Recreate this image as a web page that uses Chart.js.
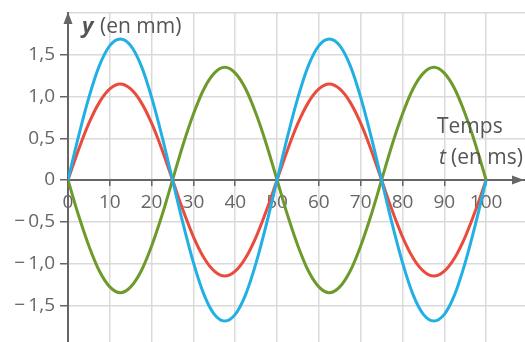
<!DOCTYPE html>
<html>
<head>
<meta charset="utf-8">
<script src="https://cdn.jsdelivr.net/npm/chart.js@4.4.1/dist/chart.umd.min.js"></script>
<style>
  html, body { margin: 0; padding: 0; background: #fff; }
  #wrap { position: relative; width: 525px; height: 342px; }
</style>
</head>
<body>
<div id="wrap"><canvas id="chart"></canvas></div>
<script>
// time in ms, sampled every 2.5 ms
const times = [0, 2.5, 5, 7.5, 10, 12.5, 15, 17.5, 20, 22.5, 25, 27.5, 30, 32.5, 35, 37.5, 40, 42.5, 45, 47.5,
  50, 52.5, 55, 57.5, 60, 62.5, 65, 67.5, 70, 72.5, 75, 77.5, 80, 82.5, 85, 87.5, 90, 92.5, 95, 97.5, 100];

// y in mm
const blueY = [0, 0.52, 0.99, 1.37, 1.61, 1.69, 1.61, 1.37, 0.99, 0.52, 0, -0.52, -0.99, -1.37, -1.61, -1.69, -1.61, -1.37, -0.99, -0.52,
  0, 0.52, 0.99, 1.37, 1.61, 1.69, 1.61, 1.37, 0.99, 0.52, 0, -0.52, -0.99, -1.37, -1.61, -1.69, -1.61, -1.37, -0.99, -0.52, 0];
const redY = [0, 0.36, 0.68, 0.93, 1.09, 1.15, 1.09, 0.93, 0.68, 0.36, 0, -0.36, -0.68, -0.93, -1.09, -1.15, -1.09, -0.93, -0.68, -0.36,
  0, 0.36, 0.68, 0.93, 1.09, 1.15, 1.09, 0.93, 0.68, 0.36, 0, -0.36, -0.68, -0.93, -1.09, -1.15, -1.09, -0.93, -0.68, -0.36, 0];
const greenY = [0, -0.42, -0.79, -1.09, -1.28, -1.35, -1.28, -1.09, -0.79, -0.42, 0, 0.42, 0.79, 1.09, 1.28, 1.35, 1.28, 1.09, 0.79, 0.42,
  0, -0.42, -0.79, -1.09, -1.28, -1.35, -1.28, -1.09, -0.79, -0.42, 0, 0.42, 0.79, 1.09, 1.28, 1.35, 1.28, 1.09, 0.79, 0.42, 0];

const xTicks = [0, 10, 20, 30, 40, 50, 60, 70, 80, 90, 100];
const yTicks = [-1.5, -1.0, -0.5, 0, 0.5, 1.0, 1.5];

const AXIS = '#666';
const GRID = '#dadada';
const FONT = '"Open Sans", sans-serif';

const toPoints = ys => times.map((t, i) => ({ x: t, y: ys[i] }));

const formatY = v => {
  if (Math.abs(v) < 1e-9) return '0';
  if (!yTicks.some(t => Math.abs(t - v) < 1e-9)) return '';
  return (v < 0 ? '\u2212\u2009' : '') + Math.abs(v).toFixed(1).replace('.', ',');
};

// arrows + axis titles
const axisDecor = {
  id: 'axisDecor',
  afterDraw(chart) {
    const { ctx, chartArea } = chart;
    const x0 = chart.scales.x.getPixelForValue(0);
    const y0 = chart.scales.y.getPixelForValue(0);
    ctx.save();
    ctx.fillStyle = AXIS;
    // y arrow
    ctx.beginPath();
    ctx.moveTo(x0, chartArea.top - 1);
    ctx.lineTo(x0 - 4.5, chartArea.top + 11);
    ctx.lineTo(x0 + 4.5, chartArea.top + 11);
    ctx.closePath();
    ctx.fill();
    // x arrow
    ctx.beginPath();
    ctx.moveTo(524, y0);
    ctx.lineTo(512, y0 - 4.5);
    ctx.lineTo(512, y0 + 4.5);
    ctx.closePath();
    ctx.fill();

    ctx.fillStyle = '#555';
    ctx.textBaseline = 'alphabetic';
    ctx.font = 'italic bold 22px ' + FONT;
    ctx.fillText('y', 82, 33);
    ctx.font = '21px ' + FONT;
    ctx.fillText('(en mm)', 100, 33);

    ctx.fillText('Temps', 437, 133);
    ctx.font = 'italic 21px ' + FONT;
    ctx.fillText('t', 439, 164);
    ctx.font = '21px ' + FONT;
    ctx.fillText('(en ms)', 451, 164);
    ctx.restore();
  }
};

new Chart(document.getElementById('chart'), {
  type: 'line',
  data: {
    datasets: [
      { data: toPoints(blueY), borderColor: '#22b0e4' },
      { data: toPoints(redY), borderColor: '#e94b3c' },
      { data: toPoints(greenY), borderColor: '#6e9a2c' }
    ].map(d => Object.assign(d, {
      borderWidth: 3,
      pointRadius: 0,
      fill: false,
      cubicInterpolationMode: 'monotone'
    }))
  },
  options: {
    responsive: true,
    maintainAspectRatio: false,
    animation: false,
    layout: { padding: { top: 13, right: 0, bottom: 0, left: 0 } },
    plugins: { legend: { display: false }, tooltip: { enabled: false } },
    scales: {
      x: {
        type: 'linear',
        position: { y: 0 },
        min: 0,
        max: 109.3,
        afterFit: s => { s.paddingLeft = 0; s.paddingRight = 0; s.paddingTop = 0; s.paddingBottom = 0; },
        ticks: {
          stepSize: 10,
          includeBounds: false,
          padding: 6,
          color: AXIS,
          font: { family: FONT, size: 19 },
          callback: v => xTicks.includes(v) ? String(v) : ''
        },
        grid: { color: GRID, lineWidth: 1.5, tickLength: 5, tickColor: AXIS, tickWidth: 1.5 },
        border: { display: true, color: AXIS, width: 2 }
      },
      y: {
        type: 'linear',
        min: -1.94,
        max: 2.0,
        afterFit: s => { s.width = 68; s.paddingTop = 0; s.paddingBottom = 0; },
        ticks: {
          stepSize: 0.5,
          includeBounds: false,
          padding: 5,
          color: AXIS,
          font: { family: FONT, size: 19 },
          callback: formatY
        },
        grid: {
          color: GRID,
          lineWidth: 1.5,
          tickLength: 8,
          tickWidth: 1.5,
          tickColor: c => (c.tick && Math.abs(c.tick.value - 2) < 1e-9) ? 'rgba(0,0,0,0)' : AXIS
        },
        border: { display: true, color: AXIS, width: 2 }
      }
    }
  },
  plugins: [axisDecor]
});
</script>
</body>
</html>
